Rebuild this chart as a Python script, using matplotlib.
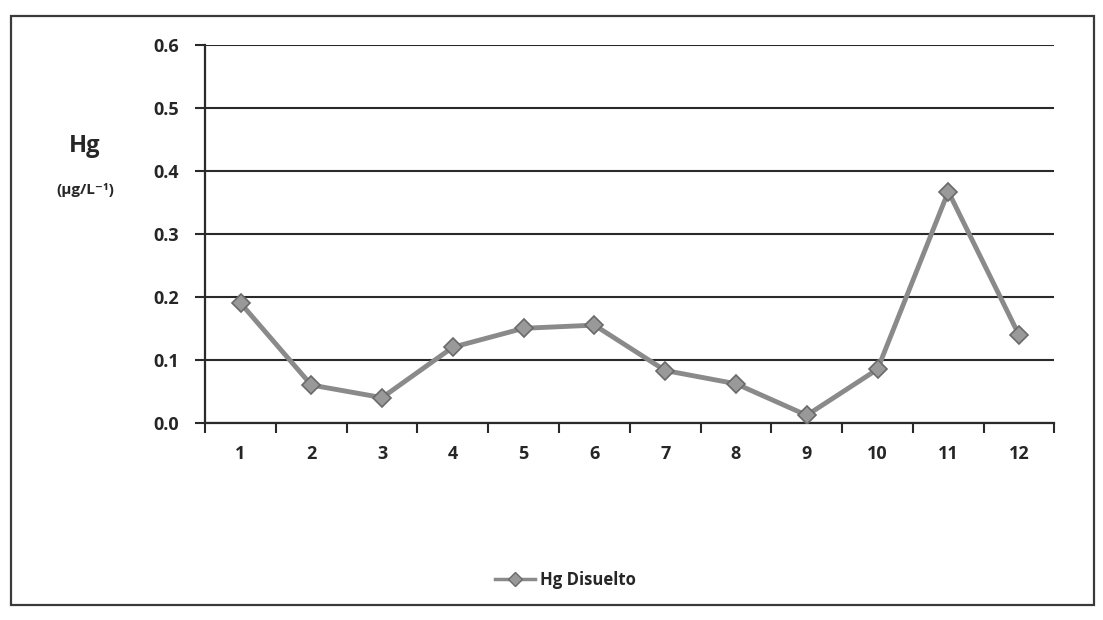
import matplotlib
matplotlib.use('Agg')
import matplotlib.pyplot as plt
from matplotlib.patches import Rectangle
from matplotlib.lines import Line2D

# Hg disuelto por punto de muestreo
PUNTOS = list(range(1, 13))
HG_DISUELTO = [0.19, 0.06, 0.04, 0.12, 0.15, 0.155, 0.083, 0.062, 0.012, 0.085, 0.367, 0.139]
Y_TICKS = [0.0, 0.1, 0.2, 0.3, 0.4, 0.5, 0.6]

plt.rcParams['font.family'] = ['Open Sans', 'DejaVu Sans']
TXT = '#262626'

fig = plt.figure(figsize=(11.03, 6.2), dpi=100)
fig.patch.set_facecolor('white')

# marco exterior del grafico
fig.patches.append(Rectangle((0.010, 0.025), 0.982, 0.950, transform=fig.transFigure,
                             fill=False, edgecolor='#3a3a3a', linewidth=1.6))

ax = fig.add_axes([0.186, 0.318, 0.770, 0.610])
ax.plot(PUNTOS, HG_DISUELTO, color='#8a8a8a', linewidth=3.5, marker='D', markersize=9,
        markerfacecolor='#999999', markeredgecolor='#6a6a6a', markeredgewidth=1.2, zorder=3)

ax.set_xlim(0.5, 12.5)
ax.set_ylim(0, 0.6)
ax.set_yticks(Y_TICKS)
ax.set_yticklabels(['%.1f' % v for v in Y_TICKS], fontsize=13, fontweight='bold', color=TXT)
ax.yaxis.grid(True, color='#2a2a2a', linewidth=1.5)
ax.set_axisbelow(True)

# eje de categorias: marcas entre puntos, etiquetas en el centro
ax.set_xticks([p + 0.5 for p in [0] + PUNTOS])
ax.set_xticklabels([])
ax.set_xticks(PUNTOS, minor=True)
ax.set_xticklabels([str(p) for p in PUNTOS], minor=True, fontsize=13, fontweight='bold', color=TXT)
ax.tick_params(axis='x', which='major', length=7, width=1.5, color='#2a2a2a', direction='out')
ax.tick_params(axis='x', which='minor', length=0, pad=16)
ax.tick_params(axis='y', length=7, width=1.5, color='#2a2a2a', pad=12)

for s in ['top', 'right']:
    ax.spines[s].set_visible(False)
for s in ['left', 'bottom']:
    ax.spines[s].set_color('#2a2a2a')
    ax.spines[s].set_linewidth(1.6)

fig.text(0.077, 0.765, 'Hg', fontsize=17, fontweight='bold', ha='center', va='center', color=TXT)
fig.text(0.077, 0.693, '(µg/L⁻¹)', fontsize=11, fontweight='bold', ha='center', va='center', color=TXT)

handle = Line2D([], [], color='#8a8a8a', linewidth=2.5, marker='D', markersize=7,
                markerfacecolor='#999999', markeredgecolor='#6a6a6a')
fig.legend(handles=[handle], labels=['Hg Disuelto'], loc='center', bbox_to_anchor=(0.513, 0.065),
           frameon=False, prop={'size': 12, 'weight': 'bold'}, handlelength=2.4, handletextpad=0.3,
           labelcolor=TXT)

fig.savefig('out.png', dpi=100)
